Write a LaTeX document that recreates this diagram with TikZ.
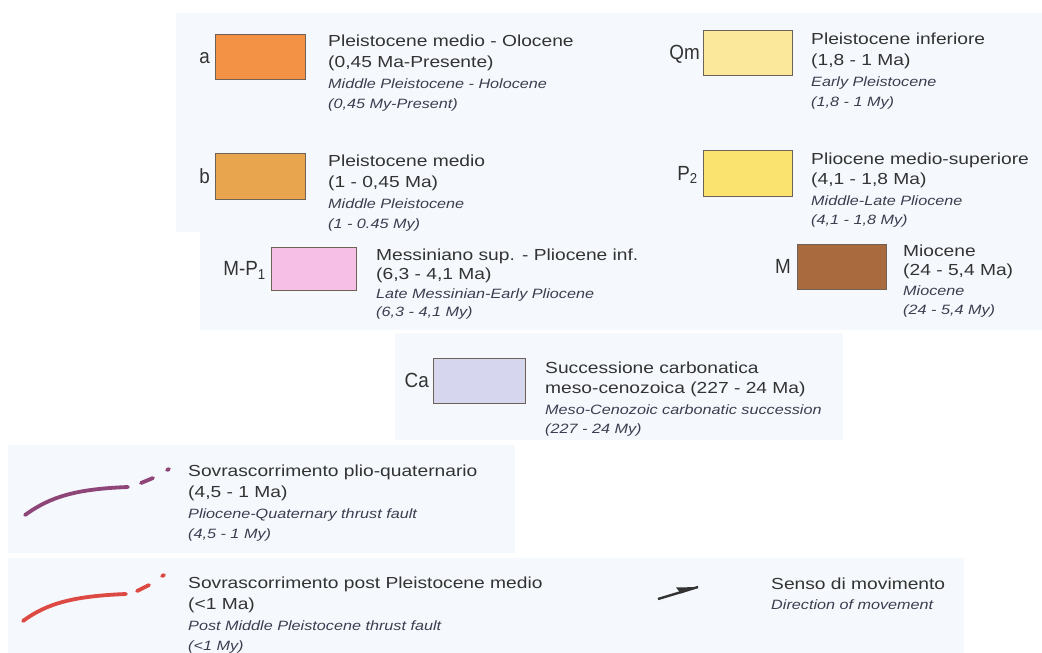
\documentclass[tikz,border=0pt]{standalone}
\usepackage{fontspec}
\setmainfont{Liberation Sans}[FakeStretch=1.2]
\newfontfamily\labfont{Liberation Sans}[FakeStretch=0.92]
\definecolor{panelc}{HTML}{F5F8FC}
\definecolor{txtc}{HTML}{333333}
\definecolor{itc}{HTML}{3C3E50}
\definecolor{edgec}{HTML}{6E6256}
\definecolor{ca}{HTML}{F39244}
\definecolor{cb}{HTML}{E9A44E}
\definecolor{cqm}{HTML}{FCE89A}
\definecolor{cp}{HTML}{FAE36E}
\definecolor{cmp}{HTML}{F6C0E6}
\definecolor{cm}{HTML}{A96A3E}
\definecolor{cca}{HTML}{D6D6EE}
\definecolor{purp}{HTML}{8E4577}
\definecolor{redt}{HTML}{DD4A43}
\tikzset{
  panel/.style={fill=panelc, draw=none},
  swatch/.style={draw=edgec, line width=0.8pt, inner sep=0pt, anchor=north west},
  lab/.style={inner sep=0pt, anchor=base east, text=txtc, font=\labfont\fontsize{20.5}{22}\selectfont},
  maintxt/.style={anchor=base west, inner sep=0pt, text=txtc, font=\fontsize{16}{19}\selectfont},
  ittxt/.style={anchor=base west, inner sep=0pt, text=itc, font=\fontsize{13.5}{16}\selectfont\itshape},
  thrust/.style={line width=3.8pt, line cap=round}
}
% name, x, y, step, l1, l2, l3, l4
\newcommand{\legblock}[8]{%
  \node[maintxt] (#1-1) at (#2,#3) {#5};
  \node[maintxt] (#1-2) at (#2,#3+#4) {#6};
  \node[ittxt] (#1-3) at (#2,#3+2*#4) {#7};
  \node[ittxt] (#1-4) at (#2,#3+3*#4-1) {#8};
}
\begin{document}
\begin{tikzpicture}[x=1pt,y=-1pt]
\useasboundingbox (0,0) rectangle (1042,653);
\fill[white] (0,0) rectangle (1042,653);
% top panel
\fill[panel] (176,13) rectangle (1042,232);
\node[swatch, fill=ca, minimum width=90pt, minimum height=45pt] (boxa) at (215,34) {};
\node[lab] (laba) at ([xshift=-5pt,yshift=-7pt]boxa.west) {a};
\legblock{ta}{328}{46}{21.3}{Pleistocene medio - Olocene}{(0,45 Ma-Presente)}{Middle Pleistocene - Holocene}{(0,45 My-Present)}
\node[swatch, fill=cb, minimum width=90pt, minimum height=46pt] (boxb) at (215,153) {};
\node[lab] (labb) at ([xshift=-5pt,yshift=-7pt]boxb.west) {b};
\legblock{tb}{328}{166}{21}{Pleistocene medio}{(1 - 0,45 Ma)}{Middle Pleistocene}{(1 - 0.45 My)}
\node[swatch, fill=cqm, minimum width=89pt, minimum height=45pt] (boxqm) at (703,30) {};
\node[lab] (labqm) at ([xshift=-3pt,yshift=-7pt]boxqm.west) {Qm};
\legblock{tqm}{811}{44}{21}{Pleistocene inferiore}{(1,8 - 1 Ma)}{Early Pleistocene}{(1,8 - 1 My)}
\node[swatch, fill=cp, minimum width=89pt, minimum height=46pt] (boxp) at (703,150) {};
\node[lab] (labp) at ([xshift=-5pt,yshift=-7pt]boxp.west) {P\textsubscript{2}};
\legblock{tp}{811}{164}{20.5}{Pliocene medio-superiore}{(4,1 - 1,8 Ma)}{Middle-Late Pliocene}{(4,1 - 1,8 My)}
% second row panel
\fill[panel] (200,232) rectangle (1042,330);
\node[swatch, fill=cmp, minimum width=85pt, minimum height=43pt] (boxmp) at (271,247) {};
\node[lab] (labmp) at ([xshift=-5pt,yshift=-7pt]boxmp.west) {M-P\textsubscript{1}};
\legblock{tmp}{376}{260}{19.3}{Messiniano sup. - Pliocene inf.}{(6,3 - 4,1 Ma)}{Late Messinian-Early Pliocene}{(6,3 - 4,1 My)}
\node[swatch, fill=cm, minimum width=89pt, minimum height=45pt] (boxm) at (797,244) {};
\node[lab] (labm) at ([xshift=-6pt,yshift=-7pt]boxm.west) {M};
\legblock{tm}{903}{256}{19.8}{Miocene}{(24 - 5,4 Ma)}{Miocene}{(24 - 5,4 My)}
% Ca panel
\fill[panel] (395,333) rectangle (843,440);
\node[swatch, fill=cca, minimum width=92pt, minimum height=45pt] (boxca) at (433,358) {};
\node[lab] (labca) at ([xshift=-4pt,yshift=-7pt]boxca.west) {Ca};
\legblock{tca}{545}{373}{20.5}{Successione carbonatica}{meso-cenozoica (227 - 24 Ma)}{Meso-Cenozoic carbonatic succession}{(227 - 24 My)}
% thrust 1
\fill[panel] (8,445) rectangle (515,553);
\coordinate (p1a) at (25,515);
\coordinate (p1b) at (128,487);
\coordinate (p1c) at (141,483);
\coordinate (p1d) at (153,478);
\coordinate (p1e) at (167,470);
\coordinate (p1f) at (169,469);
\draw[thrust, purp] (p1a) .. controls (50,497) and (75,489) .. (p1b);
\draw[thrust, purp] (p1c) -- (p1d);
\draw[thrust, purp] (p1e) -- (p1f);
\legblock{tt1}{188}{476}{21.3}{Sovrascorrimento plio-quaternario}{(4,5 - 1 Ma)}{Pliocene-Quaternary thrust fault}{(4,5 - 1 My)}
% thrust 2
\fill[panel] (8,558) rectangle (964,653);
\coordinate (p2a) at (23,621);
\coordinate (p2b) at (126,594);
\coordinate (p2c) at (137,591);
\coordinate (p2d) at (149,585);
\coordinate (p2e) at (162,576);
\coordinate (p2f) at (164,575);
\draw[thrust, redt] (p2a) .. controls (47,603) and (75,596) .. (p2b);
\draw[thrust, redt] (p2c) -- (p2d);
\draw[thrust, redt] (p2e) -- (p2f);
\legblock{tt2}{188}{588}{21}{Sovrascorrimento post Pleistocene medio}{(<1 Ma)}{Post Middle Pleistocene thrust fault}{(<1 My)}
% direction of movement
\coordinate (arS) at (658,599);
\coordinate (arE) at (698,587);
\draw[line width=2.4pt, txtc] (arS) -- (arE);
\fill[txtc] (arE) -- (676,587.5) -- (681,593.5) -- cycle;
\node[maintxt] (senso) at (771,589) {Senso di movimento};
\node[ittxt] (dir) at (771,609) {Direction of movement};
\end{tikzpicture}
\end{document}
